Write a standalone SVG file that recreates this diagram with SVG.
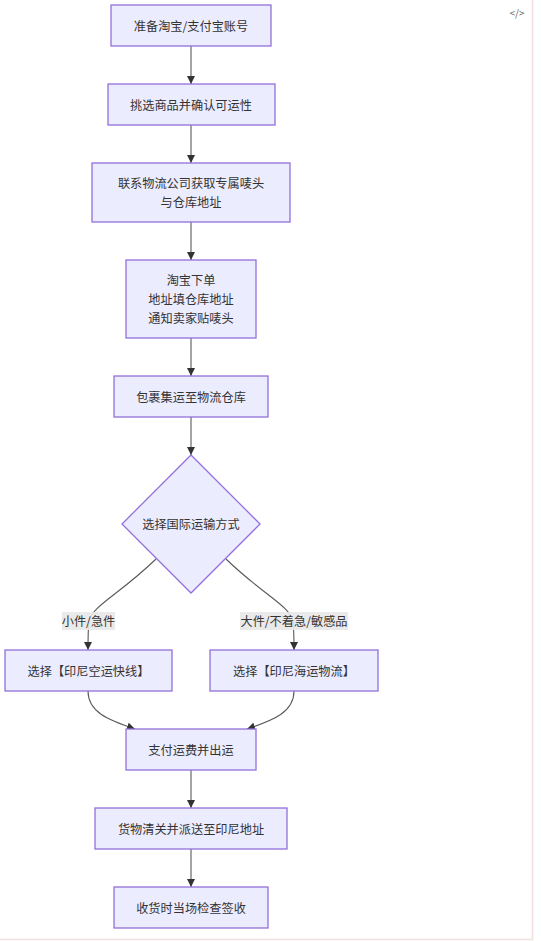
<svg xmlns="http://www.w3.org/2000/svg" width="541" height="941" viewBox="0 0 541 941">
<style>
.n rect,.n polygon{fill:#ECECFF;stroke:#9370DB;stroke-width:1.3}
text{font-family:"Noto Sans CJK SC","Liberation Sans",sans-serif;font-size:12.2px;fill:#333;text-anchor:middle;dominant-baseline:central}
.e path{fill:none;stroke:#5a5a5a;stroke-width:1.1;marker-end:url(#ah)}
.lb{fill:#e8e8e8;opacity:0.9}
</style>
<defs>
<marker id="ah" viewBox="0 0 10 10" refX="10" refY="5" markerWidth="8" markerHeight="8" markerUnits="userSpaceOnUse" orient="auto">
<path d="M0,0 L10,5 L0,10 z" fill="#333"/>
</marker>
</defs>
<rect x="0" y="0" width="541" height="941" fill="#fff"/>
<path d="M532.5,0 V939.5 H0" fill="none" stroke="#f2dfe0" stroke-width="1.5"/>
<text x="517" y="12" style="font-size:10px;fill:#666">&lt;/&gt;</text>
<g class="e" id="edges">
<path d="M191,46 V84"/>
<path d="M191,125 V163"/>
<path d="M191,222 V260"/>
<path d="M191,338 V376"/>
<path d="M191,417 V455"/>
<path d="M156,559 C120,594 92,606 89,621 C88,630 88,640 88,650"/>
<path d="M226,559 C262,594 290,606 293,621 C294,630 294,640 294,650"/>
<path d="M88,691 C88,712 108,720 135,729"/>
<path d="M294,691 C294,712 274,720 247,729"/>
<path d="M191,770 V808"/>
<path d="M191,849 V887"/>
</g>
<g id="edge-labels">
<rect class="lb" x="62" y="612" width="53" height="18"/>
<text x="88.5" y="621">小件/急件</text>
<rect class="lb" x="240" y="612" width="108" height="18"/>
<text x="294" y="621">大件/不着急/敏感品</text>
</g>
<g class="n" id="n1"><rect x="111" y="5" width="160" height="41"/><text x="191" y="25.5">准备淘宝/支付宝账号</text></g>
<g class="n" id="n2"><rect x="108" y="84" width="167" height="41"/><text x="191" y="104.5">挑选商品并确认可运性</text></g>
<g class="n" id="n3"><rect x="92" y="163" width="198" height="59"/><text x="191" y="183">联系物流公司获取专属唛头</text><text x="191" y="202">与仓库地址</text></g>
<g class="n" id="n4"><rect x="126" y="260" width="130" height="78"/><text x="191" y="280">淘宝下单</text><text x="191" y="299">地址填仓库地址</text><text x="191" y="318">通知卖家贴唛头</text></g>
<g class="n" id="n5"><rect x="114" y="376" width="154" height="41"/><text x="191" y="396.5">包裹集运至物流仓库</text></g>
<g class="n" id="n6"><polygon points="191,455 260,524 191,593 122,524"/><text x="191" y="524">选择国际运输方式</text></g>
<g class="n" id="n7"><rect x="5" y="650" width="167" height="41"/><text x="88.5" y="670.5">选择【印尼空运快线】</text></g>
<g class="n" id="n8"><rect x="210" y="650" width="168" height="41"/><text x="294" y="670.5">选择【印尼海运物流】</text></g>
<g class="n" id="n9"><rect x="126" y="729" width="130" height="41"/><text x="191" y="749.5">支付运费并出运</text></g>
<g class="n" id="n10"><rect x="95" y="808" width="192" height="41"/><text x="191" y="828.5">货物清关并派送至印尼地址</text></g>
<g class="n" id="n11"><rect x="114" y="887" width="154" height="41"/><text x="191" y="907.5">收货时当场检查签收</text></g>
</svg>
